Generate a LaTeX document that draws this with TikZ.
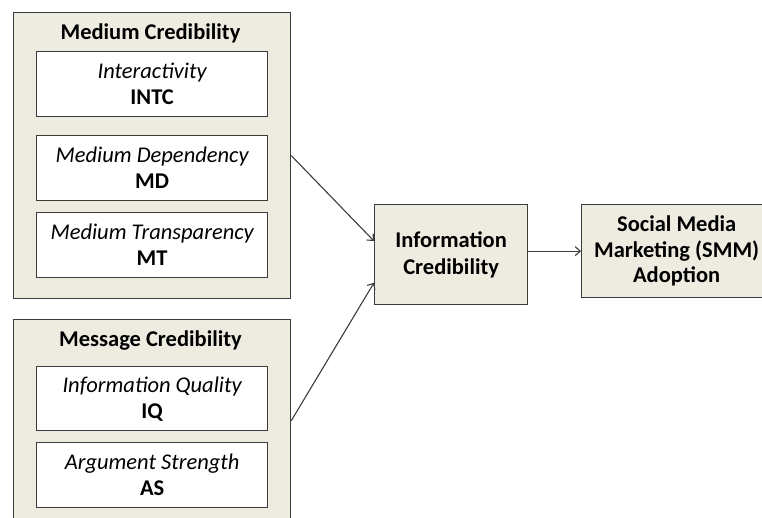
\documentclass[tikz,border=0pt]{standalone}
\usepackage{fontspec}
\setmainfont{Carlito}
\usetikzlibrary{arrows.meta}
\definecolor{panel}{RGB}{238,236,225}
\definecolor{edge}{RGB}{60,60,60}
\begin{document}
\begin{tikzpicture}[x=1pt,y=-1pt,
  font=\fontsize{22.5}{26}\selectfont,
  group/.style={draw=edge, line width=1.3pt, fill=panel, anchor=north west,
    inner sep=0pt, minimum width=277pt},
  item/.style={draw=edge, line width=1.3pt, fill=white, anchor=north west,
    inner sep=0pt, minimum width=231pt, minimum height=65pt, align=center},
  block/.style={draw=edge, line width=1.3pt, fill=panel, anchor=north west,
    inner sep=0pt, align=center, font=\fontsize{22.5}{25.5}\selectfont\bfseries},
  title/.style={anchor=base, font=\fontsize{22.5}{26}\selectfont\bfseries},
  link/.style={draw=edge, line width=1.1pt, -{Straight Barb[length=5pt,width=9pt]}}]
\useasboundingbox (0,0) rectangle (762,517);
\clip (0,0) rectangle (762,517);

% left-hand groups of constructs
\node[group, minimum height=286pt] (medium) at (13,12) {};
\node[title] (mediumtitle) at (150.5,39) {Medium Credibility};
\node[item] (intc) at (36,51)  {\itshape Interactivity\\\bfseries INTC};
\node[item] (md)   at (36,135) {\itshape Medium Dependency\\\bfseries MD};
\node[item] (mt)   at (36,212) {\itshape Medium Transparency\\\bfseries MT};

\node[group, minimum height=202pt] (message) at (13,319) {};
\node[title] (messagetitle) at (150.5,346) {Message Credibility};
\node[item, minimum height=64pt] (iq) at (36,366) {\itshape Information Quality\\\bfseries IQ};
\node[item] (as) at (36,442) {\itshape Argument Strength\\\bfseries AS};

% outcome constructs
\node[block, minimum width=153pt, minimum height=100pt] (info) at (374,204)
  {Information\\[2pt]Credibility};
\node[block, minimum width=190pt, minimum height=93pt] (smm) at (581,204)
  {Social Media\\Marketing (SMM)\\Adoption};

% paths
\draw[link] (medium.east) -- (info.170);
\draw[link] (message.east) -- (info.200);
\draw[link] (info.east |- smm.west) -- (smm.west);
\end{tikzpicture}
\end{document}
